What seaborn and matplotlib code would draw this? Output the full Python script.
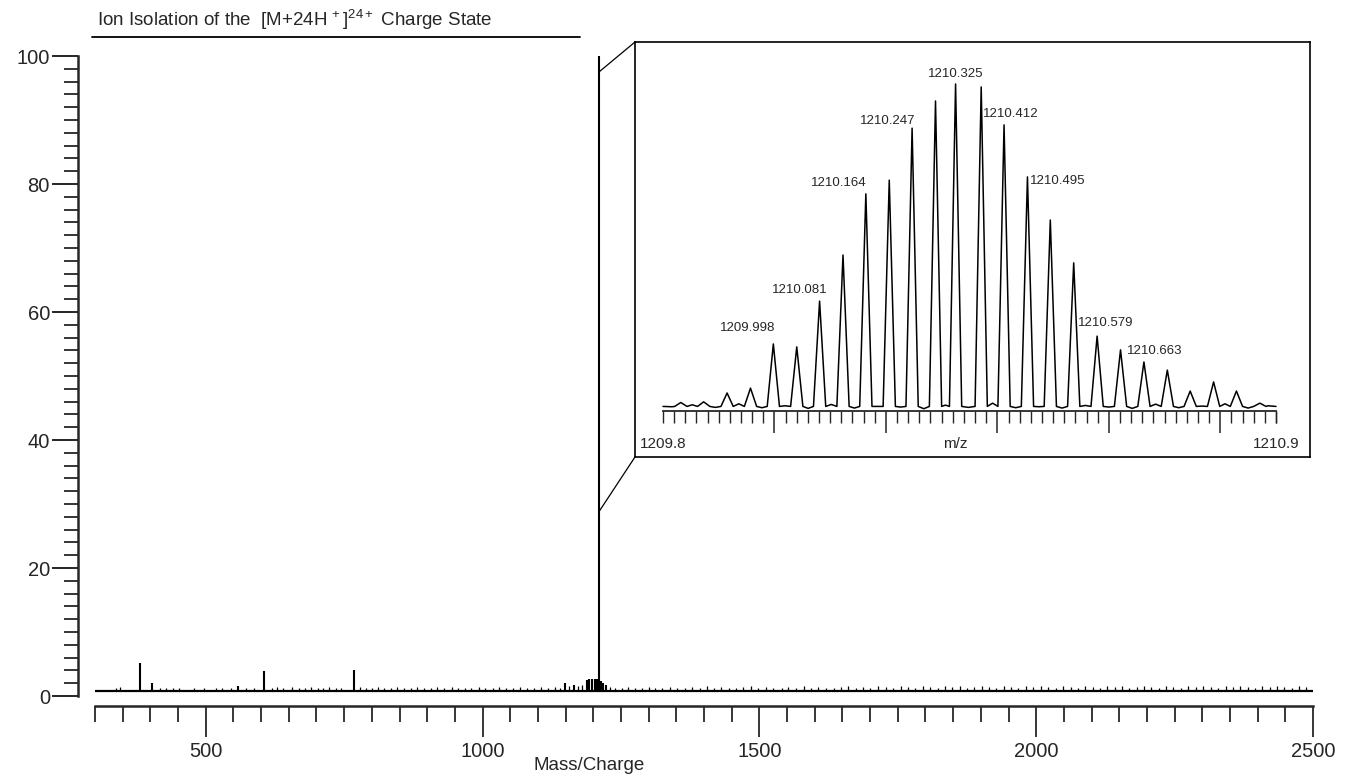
import numpy as np
import pandas as pd
import matplotlib
matplotlib.use("Agg")
import matplotlib.pyplot as plt
from matplotlib.patches import ConnectionPatch
from matplotlib.lines import Line2D
from matplotlib.ticker import MultipleLocator, FixedLocator
import seaborn as sns

# ---------------- data ----------------
# main spectrum (Mass/Charge vs relative abundance)
mz_range = [300, 2500]
baseline_level = 0.8
peak_mz = [382, 403, 558, 605, 768, 1149, 1165, 1188, 1193, 1198, 1203, 1207,
           1210.3, 1214, 1218, 1223]
peak_int = [5.2, 2.1, 1.6, 3.9, 4.0, 2.1, 1.7, 2.5, 2.6, 2.6, 2.6, 2.6,
            100.0, 2.4, 2.1, 1.7]
noise_sticks = [
    (338, 1.3), (345, 1.4), (418, 1.2), (428, 1.3), (440, 1.2), (452, 1.3), (478, 1.2),
    (497, 1.3), (518, 1.2), (530, 1.3), (545, 1.2), (572, 1.2), (588, 1.3), (620, 1.3),
    (628, 1.4), (640, 1.3), (655, 1.4), (668, 1.3), (680, 1.3), (690, 1.4), (702, 1.3),
    (712, 1.3), (722, 1.4), (735, 1.3), (745, 1.3), (778, 1.4), (790, 1.3), (800, 1.3),
    (812, 1.4), (822, 1.3), (835, 1.3), (845, 1.4), (858, 1.3), (870, 1.3), (882, 1.4),
    (895, 1.3), (906, 1.3), (918, 1.4), (930, 1.3), (944, 1.4), (955, 1.2), (968, 1.3),
    (980, 1.3), (993, 1.4), (1005, 1.3), (1018, 1.3), (1030, 1.4), (1042, 1.3), (1055, 1.3),
    (1068, 1.4), (1080, 1.3), (1093, 1.2), (1105, 1.4), (1118, 1.3), (1130, 1.4), (1140, 1.3),
    (1156, 1.6), (1172, 1.5), (1180, 1.7), (1230, 1.4), (1240, 1.3), (1252, 1.3), (1262, 1.4),
    (1275, 1.3), (1288, 1.2), (1300, 1.4), (1312, 1.3), (1325, 1.2), (1338, 1.4), (1352, 1.3),
    (1365, 1.2), (1378, 1.4), (1392, 1.3), (1405, 1.5), (1418, 1.3), (1430, 1.4), (1445, 1.3),
    (1458, 1.2), (1470, 1.4), (1485, 1.5), (1498, 1.3), (1512, 1.4), (1525, 1.2), (1540, 1.3),
    (1552, 1.4), (1566, 1.3), (1580, 1.5), (1594, 1.3), (1606, 1.4), (1620, 1.3), (1634, 1.2),
    (1648, 1.4), (1660, 1.5), (1675, 1.3), (1688, 1.4), (1700, 1.3), (1714, 1.5), (1728, 1.4),
    (1742, 1.3), (1755, 1.5), (1768, 1.4), (1782, 1.3), (1795, 1.5), (1808, 1.4), (1822, 1.3),
    (1835, 1.5), (1848, 1.4), (1862, 1.5), (1875, 1.3), (1888, 1.4), (1902, 1.5), (1915, 1.4),
    (1928, 1.3), (1942, 1.5), (1955, 1.4), (1968, 1.3), (1982, 1.5), (1995, 1.4), (2008, 1.6),
    (2022, 1.4), (2035, 1.3), (2048, 1.5), (2062, 1.4), (2075, 1.3), (2088, 1.5), (2102, 1.4),
    (2115, 1.3), (2128, 1.5), (2142, 1.4), (2155, 1.5), (2168, 1.3), (2182, 1.4), (2195, 1.5),
    (2208, 1.4), (2222, 1.3), (2235, 1.5), (2248, 1.4), (2262, 1.3), (2275, 1.5), (2288, 1.4),
    (2302, 1.5), (2315, 1.4), (2328, 1.3), (2342, 1.5), (2355, 1.4), (2368, 1.5), (2382, 1.4),
    (2395, 1.3), (2408, 1.5), (2422, 1.4), (2435, 1.5), (2448, 1.4), (2462, 1.3), (2475, 1.5),
    (2488, 1.4)]
zoom_mz = 1210.3
zoom_link_levels = [97.5, 28.8]   # where the zoom lines meet the big peak

# inset: isotope distribution of the 24+ ion
inset_range = [1209.8, 1210.9]
iso_mz = [1209.832, 1209.873, 1209.915, 1209.957, 1209.998, 1210.040, 1210.081,
          1210.123, 1210.164, 1210.206, 1210.247, 1210.289, 1210.325, 1210.371,
          1210.412, 1210.454, 1210.495, 1210.537, 1210.579, 1210.621, 1210.663,
          1210.705, 1210.746, 1210.788, 1210.829, 1210.871]
iso_int = [2.6, 2.8, 5.5, 7.0, 20.5, 19.6, 33.6, 47.7, 66.4, 70.6, 86.5, 94.8, 100.0,
           99.1, 87.5, 71.6, 58.4, 45.3, 22.9, 18.7, 15.0, 12.5, 6.1, 8.9, 6.1, 2.4]
gap_noise = [1.3, 1.9, 1.1, 2.2, 1.0, 1.6, 0.8, 2.0, 0.9, 1.4, 1.2, 0.7, 1.8, 1.1,
             2.4, 1.0, 1.3, 0.9, 1.7, 1.2, 0.8, 2.1, 1.0, 1.5, 2.2, 0.9, 1.6]
inset_base = 1.4
labelled_mz = ["1209.998", "1210.081", "1210.164", "1210.247", "1210.325",
               "1210.412", "1210.495", "1210.579", "1210.663"]
# label offsets (points) relative to the peak apex: layout only
label_offsets = [(-18.7, 11.5), (-14.4, 7.9), (-19.4, 7.9), (-17.3, 5.0), (0, 7.2),
                 (5.0, 7.9), (5.0, 28.0), (6.5, 9.4), (7.9, 7.9)]

# ---------------- style ----------------
sns.set_style("ticks")
plt.rcParams['font.family'] = ['Liberation Sans', 'DejaVu Sans']

W, H = 1349, 774
fig = plt.figure(figsize=(W / 100, H / 100), dpi=100)


def px_rect(x0, y0, x1, y1):
    return [x0 / W, 1 - y1 / H, (x1 - x0) / W, (y1 - y0) / H]


# ---------------- main spectrum ----------------
ax = fig.add_axes(px_rect(95, 56, 1313, 696))
base_df = pd.DataFrame({"mz": mz_range, "intensity": [baseline_level] * 2})
sns.lineplot(data=base_df, x="mz", y="intensity", ax=ax, color="black", lw=1.6)
noise_df = pd.DataFrame(noise_sticks, columns=["mz", "intensity"])
ax.vlines(noise_df["mz"], baseline_level, noise_df["intensity"], color="black", lw=0.9)
ax.vlines(peak_mz, baseline_level, peak_int, color="black", lw=1.5, clip_on=False)

ax.set_xlim(*mz_range)
ax.set_ylim(0, 100)
sns.despine(ax=ax, offset={"left": 12.2, "bottom": 7.2})
ax.spines["left"].set_bounds(0, 100)
ax.spines["bottom"].set_bounds(*mz_range)
for s in ("left", "bottom"):
    ax.spines[s].set_linewidth(1.8)
ax.xaxis.set_major_locator(FixedLocator([500, 1000, 1500, 2000, 2500]))
ax.xaxis.set_minor_locator(MultipleLocator(50))
ax.yaxis.set_major_locator(MultipleLocator(20))
ax.yaxis.set_minor_locator(MultipleLocator(2))
ax.tick_params(axis="y", which="major", length=18.7, width=1.4, pad=1.5, labelsize=14.5)
ax.tick_params(axis="y", which="minor", length=10, width=1.3)
ax.tick_params(axis="x", which="major", length=22, width=1.3, pad=4, labelsize=14.5)
ax.tick_params(axis="x", which="minor", length=11.5, width=1.3)
ax.set_ylabel("")
ax.set_xlabel("Mass/Charge", fontsize=13.5)
ax.xaxis.label.set_va("center")
ax.xaxis.set_label_coords((589 - 95) / 1218, (696 - 766) / 640)

# ---------------- inset ----------------
box = fig.add_axes(px_rect(635, 42, 1310, 457))
box.set_xticks([])
box.set_yticks([])
for s in box.spines.values():
    s.set_visible(True)
    s.set_linewidth(1.2)
    s.set_color("black")

ins = fig.add_axes(px_rect(663, 84, 1276, 411))
ins.patch.set_alpha(0)
xs, ys = [inset_range[0]], [inset_base]
prev = inset_range[0]
for i, (m, h) in enumerate(zip(iso_mz, iso_int)):
    xs += [(prev + m) / 2, m - 0.011, m, m + 0.011]
    ys += [gap_noise[i], inset_base, h, inset_base]
    prev = m
xs += [(prev + inset_range[1]) / 2, inset_range[1]]
ys += [gap_noise[-1], inset_base]
prof = pd.DataFrame({"mz": xs, "intensity": ys})
sns.lineplot(data=prof, x="mz", y="intensity", ax=ins, sort=False, estimator=None,
             color="black", lw=1.1, clip_on=False)
ins.set_xlim(*inset_range)
ins.set_ylim(0, 100)
for s in ("left", "top", "right"):
    ins.spines[s].set_visible(False)
ins.spines["bottom"].set_linewidth(1.3)
ins.set_yticks([])
ins.xaxis.set_major_locator(FixedLocator([1210.0, 1210.2, 1210.4, 1210.6, 1210.8]))
ins.xaxis.set_minor_locator(FixedLocator(list(np.round(np.arange(1209.8, 1210.901, 0.02), 3)) + [1210.9]))
ins.tick_params(axis="x", which="major", length=16, width=1.1, labelbottom=False)
ins.tick_params(axis="x", which="minor", length=8.5, width=1.0)
ins.set_xlabel("")
ins.set_ylabel("")
tr = ins.get_xaxis_transform()
ins.text(inset_range[0], -0.1, f"{inset_range[0]:.1f}", transform=tr, ha="center", va="center", fontsize=11)
ins.text(inset_range[1], -0.1, f"{inset_range[1]:.1f}", transform=tr, ha="center", va="center", fontsize=11)
ins.text((955 - 663) / 613, -0.1, "m/z", transform=ins.transAxes, ha="center", va="center", fontsize=11)

for lab, (dx, dy) in zip(labelled_mz, label_offsets):
    m = float(lab)
    idx = int(np.argmin(np.abs(np.array(iso_mz) - m)))
    ins.annotate(lab, xy=(iso_mz[idx], iso_int[idx]), xytext=(dx, dy),
                 textcoords="offset points", ha="center", va="center", fontsize=9.5)

# zoom connector lines
for lvl, corner in zip(zoom_link_levels, [(0, 1), (0, 0)]):
    con = ConnectionPatch(xyA=(zoom_mz, lvl), coordsA=ax.transData,
                          xyB=corner, coordsB=box.transAxes, color="black", lw=0.9)
    fig.add_artist(con)

# ---------------- title ----------------
fig.text(97 / W, 1 - 20 / H,
         r"Ion Isolation of the  [M+24H$\mathregular{^{\,+}}$]$\mathregular{^{24+}}$ Charge State",
         fontsize=13.5, va="center", ha="left")
fig.add_artist(Line2D([92 / W, 580 / W], [1 - 37 / H, 1 - 37 / H], color="black", lw=1.3,
                      transform=fig.transFigure))

fig.savefig("out.png", dpi=100)
